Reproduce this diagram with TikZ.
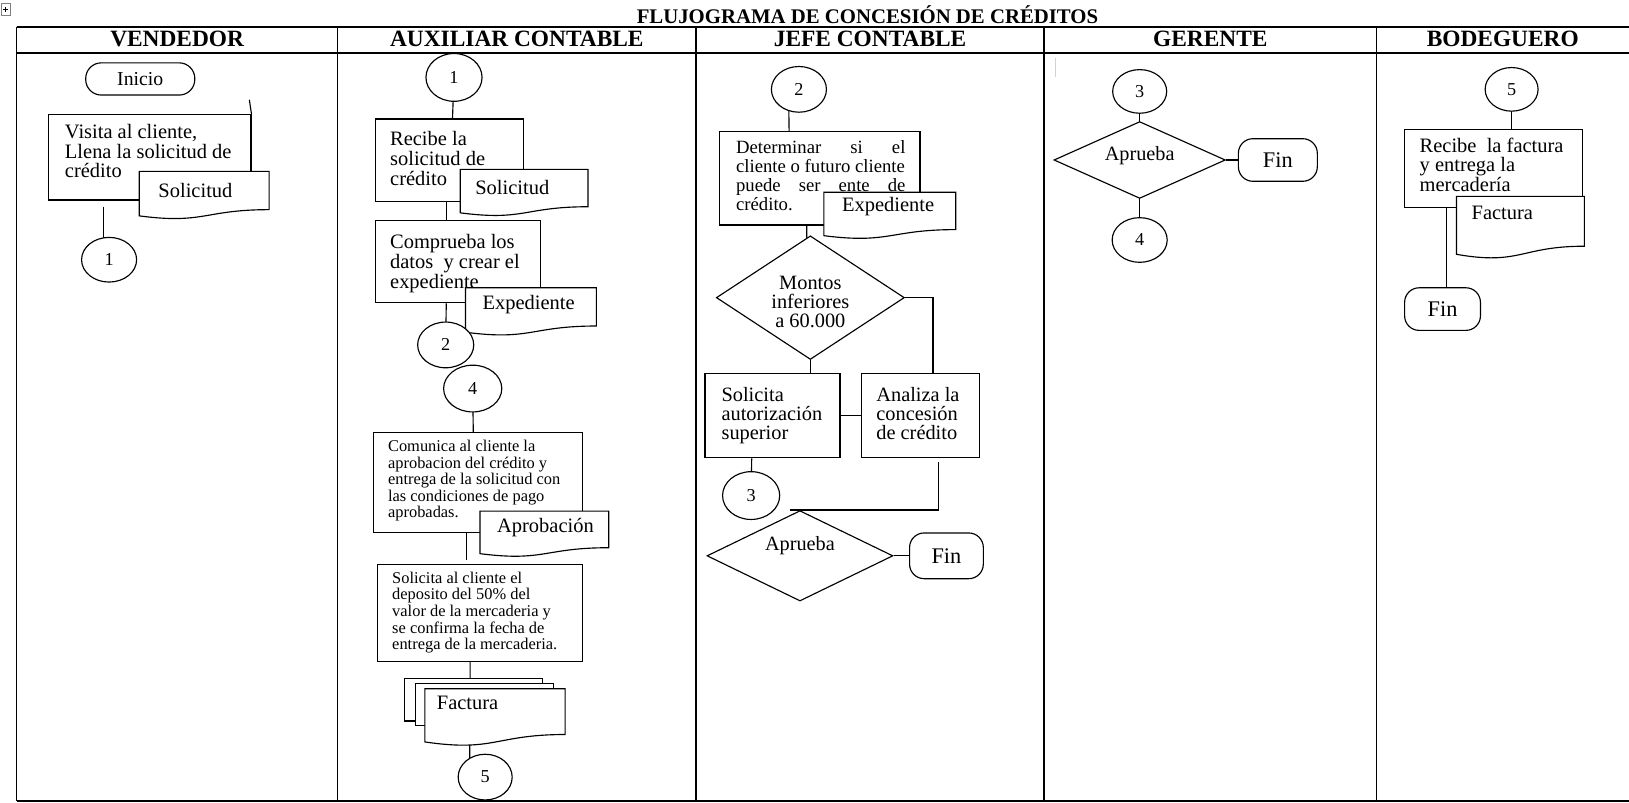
\documentclass[tikz,border=0pt]{standalone}
\usepackage{fontspec}
\setmainfont{Liberation Serif}
\usetikzlibrary{shapes.geometric,backgrounds}

\newcommand{\bodyfnt}{\fontsize{19.7}{19}\selectfont}
\newcommand{\smallfnt}{\fontsize{15.8}{16}\selectfont}
\newcommand{\numfnt}{\fontsize{17.5}{18}\selectfont}
\newcommand{\headfnt}{\fontsize{22.5}{24}\selectfont\bfseries}
\newcommand{\titlefnt}{\fontsize{20}{22}\selectfont\bfseries}

% document symbol: x, y (top left), width, height
\newcommand{\docshape}[4]{%
  \draw[fill=white] (#1,#2) -- (#1+#3,#2) -- (#1+#3,#2+0.8*#4)
    .. controls (#1+0.5*#3,#2+0.8*#4) and (#1+0.5*#3,#2+1.11*#4) .. (#1,#2+0.93*#4) -- cycle;}

\begin{document}
\begin{tikzpicture}[x=1pt, y=-1pt, line width=1.1pt, font=\bodyfnt,
  tbl/.style={line width=1.5pt},
  ln/.style={line width=1.1pt},
  proc/.style={draw, fill=white, anchor=north west, inner sep=0pt},
  txt/.style={anchor=north west, inner sep=0pt, align=left, font=\bodyfnt},
  conn/.style={draw, fill=white, ellipse, inner sep=0pt, minimum width=53pt, minimum height=43pt, font=\numfnt},
  term/.style={draw, fill=white, rounded corners=14pt, inner sep=0pt, font=\fontsize{21.5}{22}\selectfont},
  dec/.style={draw, fill=white, diamond, inner sep=0pt},
  doctxt/.style={anchor=west, inner sep=0pt},
  head/.style={font=\headfnt}
]
\useasboundingbox (0,0) rectangle (1568,772);

% title and lanes
\draw[gray, line width=0.6pt] (1,3) rectangle (10,15);
\draw[line width=0.7pt] (3,9) -- (8,9) (5.5,6.5) -- (5.5,11.5);
\node[font=\titlefnt] (title) at (835,14) {FLUJOGRAMA DE CONCESIÓN DE CRÉDITOS};
\node[head] (hven) at (170.5,37.5) {VENDEDOR};
\node[head] (haux) at (497.5,37.5) {AUXILIAR CONTABLE};
\node[head] (hjef) at (837.5,37.5) {JEFE CONTABLE};
\node[head] (hger) at (1165,37.5) {GERENTE};
\node[head] (hbod) at (1446.5,37.5) {BODEGUERO};
\draw[gray!35, line width=1pt] (1016,56) -- (1016,74);

% vendedor
\node[term, rounded corners=15pt, minimum width=105pt, minimum height=31pt, font=\fontsize{19}{19}\selectfont] (inicio) at (135,76) {Inicio};
\node[proc, minimum width=195pt, minimum height=82pt,
  label={[txt, xshift=16pt, yshift=-9pt]north west:{Visita al cliente,\\Llena la solicitud de\\crédito}}] (visita) at (46,110) {};
\docshape{134}{165}{125}{46}
\node[doctxt] (dsolv) at (152,183) {Solicitud};
\node[conn] (c1v) at (105,250) {1};
\coordinate (vtick) at (240,96);
\coordinate (vgap) at (100,199);

% auxiliar contable
\node[conn, minimum width=54pt, minimum height=46pt] (a1) at (437,74.5) {1};
\node[proc, minimum width=142pt, minimum height=79pt,
  label={[txt, xshift=14pt, yshift=-12pt]north west:{Recibe la\\solicitud de\\crédito}}] (recibe) at (361,114) {};
\docshape{443}{163}{123}{45}
\node[doctxt] (dsola) at (457,180) {Solicitud};
\node[proc, minimum width=159pt, minimum height=79pt,
  label={[txt, xshift=14pt, yshift=-13pt]north west:{Comprueba los\\datos\ \ y crear el\\expediente}}] (compr) at (361,212) {};
\docshape{448}{277}{126}{46}
\node[doctxt] (dexpa) at (464,293) {Expediente};
\node[conn, minimum width=54pt, minimum height=44pt] (a2) at (429,332) {2};
\node[conn, minimum width=56pt, minimum height=45pt] (a4) at (455,374) {4};
\node[proc, minimum width=201pt, minimum height=96pt,
  label={[txt, font=\smallfnt, xshift=14pt, yshift=-7pt]north west:{Comunica al cliente la\\aprobacion del crédito y\\entrega de la solicitud con\\las condiciones de pago\\aprobadas.}}] (comu) at (359,416) {};
\docshape{462}{492}{124}{44}
\node[doctxt] (dapro) at (478,508) {Aprobación};
\coordinate (agap1) at (449,513);
\coordinate (agap2) at (449,539);
\node[proc, minimum width=197pt, minimum height=93pt,
  label={[txt, font=\smallfnt, xshift=14pt, yshift=-7pt]north west:{Solicita al cliente el\\deposito del 50\% del\\valor de la mercaderia y\\se confirma la fecha de\\entrega de la mercaderia.}}] (solic) at (363,543) {};
\draw[fill=white] (389,653) rectangle (522,694);
\draw[fill=white] (400,658) rectangle (533,698);
\docshape{409}{663}{135}{55}
\node[doctxt] (dfaca) at (420,677) {Factura};
\node[conn, minimum width=52pt, minimum height=44pt] (a5) at (467,748) {5};

% jefe contable
\node[conn, minimum height=44pt] (j2) at (769,86) {2};
\node[proc, minimum width=193pt, minimum height=90pt,
  label={[txt, font=\fontsize{18}{18.3}\selectfont, xshift=16pt, yshift=-9pt]north west:{\makebox[163pt][s]{Determinar si el}\\cliente o futuro cliente\\\makebox[163pt][s]{puede ser ente de}\\crédito.}}] (det) at (692,126) {};
\docshape{793}{185}{127}{45}
\node[doctxt] (dexpj) at (810,199) {Expediente};
\node[dec, minimum width=181pt, minimum height=119pt,
  label={[font=\fontsize{19.6}{18.6}\selectfont, align=center, yshift=-4pt]center:{Montos\\inferiores\\a 60.000}}] (mon) at (780,286.5) {};
\node[proc, minimum width=130pt, minimum height=81pt,
  label={[txt, font=\fontsize{19.6}{18.3}\selectfont, xshift=16pt, yshift=-13pt]north west:{Solicita\\autorización\\superior}}] (soli) at (678,359) {};
\node[proc, minimum width=113pt, minimum height=81pt,
  label={[txt, font=\fontsize{19.6}{18.3}\selectfont, xshift=14pt, yshift=-13pt]north west:{Analiza la\\concesión\\de crédito}}] (ana) at (829,359) {};
\node[conn, minimum width=55pt, minimum height=46pt] (j3) at (723,477) {3};
\node[dec, minimum width=179pt, minimum height=87pt,
  label={[font=\fontsize{19.5}{20}\selectfont, yshift=10pt]center:Aprueba}] (apj) at (770,535) {};
\node[term, minimum width=71pt, minimum height=44pt] (fin1) at (911,535) {Fin};

% gerente
\node[conn, minimum width=52pt, minimum height=42pt] (g3) at (1097,88) {3};
\node[dec, minimum width=165pt, minimum height=74pt,
  label={[font=\fontsize{19.5}{20}\selectfont, yshift=4pt]center:Aprueba}] (apg) at (1097,154) {};
\node[term, minimum width=76pt, minimum height=41pt] (fin2) at (1230,154) {Fin};
\node[conn] (g4) at (1097,231) {4};

% bodeguero
\node[conn, minimum width=51pt, minimum height=42pt] (b5) at (1455,86) {5};
\node[proc, minimum width=172pt, minimum height=75pt,
  label={[txt, xshift=15pt, yshift=-8pt]north west:{Recibe\ \ la factura\\y entrega la\\mercadería}}] (rfb) at (1351,124) {};
\docshape{1402}{189}{123}{60}
\node[doctxt] (dfacb) at (1416,205) {Factura};
\node[term, minimum width=73pt, minimum height=41pt] (fin3) at (1388.5,297.5) {Fin};

\begin{scope}[on background layer]
  \draw[tbl] (16,26) -- (1568,26);
  \draw[tbl] (16,51) -- (1568,51);
  \draw[tbl] (16,771) -- (1568,771);
  \foreach \cx in {16,325,670,1005,1325}
    \draw[tbl] (\cx,26) -- (\cx,771);
  % vendedor
  \draw[ln] (vtick) -- (visita.north east);
  \draw[ln] (vgap) -- (vgap |- c1v.center);
  % auxiliar
  \draw[ln] (a1.center) -- ([xshift=3pt]recibe.north);
  \draw[ln] ([xshift=-3pt]recibe.south) -- ([xshift=-11.5pt]compr.north);
  \draw[ln] ([xshift=-11.5pt]compr.south) -- (a2.center);
  \draw[ln] (a4.center) -- ([xshift=-4.5pt]comu.north);
  \draw[ln] (agap1) -- (agap2);
  \draw[ln] ([xshift=-9.5pt]solic.south) -- ([xshift=-15pt]a5.center);
  % jefe
  \draw[ln] ([xshift=-10pt]j2.center) -- ([xshift=-29.5pt]det.north);
  \draw[ln] ([xshift=-12.5pt]det.south) -- ([xshift=-4pt]mon.center);
  \draw[ln] (mon.east) -| ([xshift=12pt]ana.north);
  \draw[ln] (mon.south) -- (mon.south |- soli.north);
  \draw[ln] (soli.east) -- (ana.west);
  \draw[ln] ([xshift=-20pt]soli.south) -- (j3.center);
  \draw[ln] ([xshift=17.5pt,yshift=-4pt]ana.south) |- ([xshift=-10pt]apj.north);
  \draw[ln] (apj.east) -- (fin1.west);
  % gerente
  \draw[ln] (g3.center) -- (apg.center);
  \draw[ln] (apg.east) -- (fin2.west);
  \draw[ln] (apg.center) -- (g4.center);
  % bodeguero
  \draw[ln] (b5.center) -- (b5.center |- rfb.north);
  \draw[ln] ([xshift=41pt]rfb.south west) -- ([xshift=3.5pt]fin3.north);
\end{scope}
\end{tikzpicture}
\end{document}
